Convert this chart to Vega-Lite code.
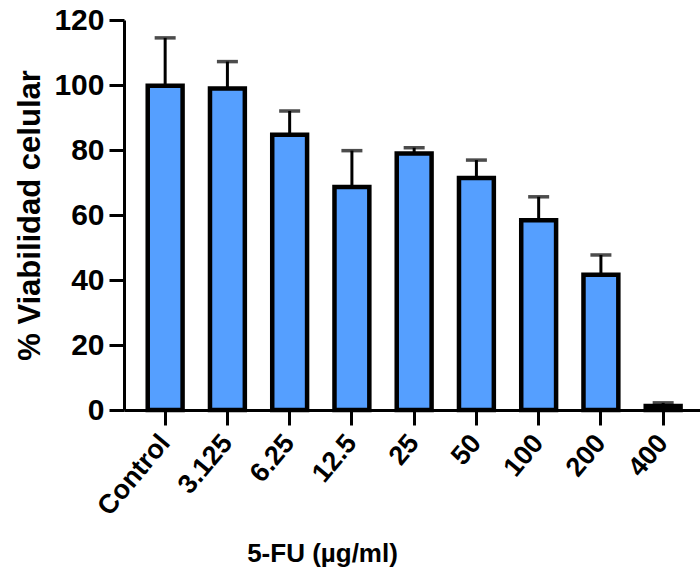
{
  "$schema": "https://vega.github.io/schema/vega-lite/v6.json",
  "autosize": "none",
  "width": 576,
  "height": 390,
  "padding": {"left": 124, "top": 20, "right": 0, "bottom": 161},
  "background": "white",
  "config": {
    "view": {"stroke": null},
    "font": "Liberation Sans",
    "axis": {"grid": false, "domainColor": "black", "domainWidth": 3, "tickColor": "black", "tickWidth": 3, "tickSize": 15, "labelColor": "black", "titleColor": "black", "labelFontWeight": "bold", "titleFontWeight": "bold", "labelFont": "Liberation Sans", "titleFont": "Liberation Sans"}
  },
  "data": {
    "values": [
      {"conc": "Control", "mean": 99.8, "upper": 114.5},
      {"conc": "3.125", "mean": 98.9, "upper": 107.2},
      {"conc": "6.25", "mean": 84.7, "upper": 92.0},
      {"conc": "12.5", "mean": 68.6, "upper": 79.8},
      {"conc": "25", "mean": 78.9, "upper": 80.7},
      {"conc": "50", "mean": 71.4, "upper": 76.9},
      {"conc": "100", "mean": 58.4, "upper": 65.6},
      {"conc": "200", "mean": 41.6, "upper": 47.7},
      {"conc": "400", "mean": 1.2, "upper": 2.2}
    ]
  },
  "encoding": {
    "x": {
      "field": "conc", "type": "nominal", "sort": null,
      "scale": {"paddingInner": 0.44, "paddingOuter": 0.3465, "align": 0.55},
      "axis": {"title": "5-FU (µg/ml)", "titleFontSize": 26, "titleX": 198, "titleY": 130, "titleBaseline": "top", "labelAngle": -50, "labelAlign": "right", "labelBaseline": "middle", "labelFontSize": 27, "labelPadding": 13}
    }
  },
  "layer": [
    {
      "mark": {"type": "bar", "fill": "#559FFF", "stroke": "black", "strokeWidth": 4.5},
      "encoding": {
        "y": {"field": "mean", "type": "quantitative", "scale": {"domain": [0, 120], "nice": false},
          "axis": {"title": "% Viabilidad celular", "values": [0, 20, 40, 60, 80, 100, 120], "labelFontSize": 30, "labelPadding": 5, "titleFontSize": 31, "titlePadding": 7}}
      }
    },
    {
      "mark": {"type": "rule", "color": "black", "strokeWidth": 3},
      "encoding": {"y": {"field": "mean", "type": "quantitative"}, "y2": {"field": "upper"}}
    },
    {
      "mark": {"type": "tick", "color": "black", "thickness": 3.5, "size": 21},
      "encoding": {"y": {"field": "upper", "type": "quantitative"}}
    }
  ]
}
